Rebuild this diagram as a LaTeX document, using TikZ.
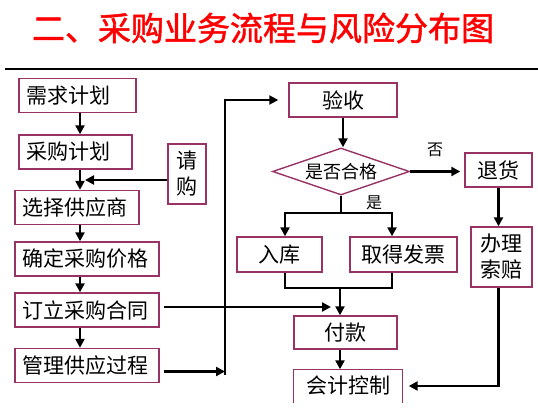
\documentclass[tikz,border=0pt]{standalone}
\usepackage{fontspec}
\setmainfont{Noto Sans CJK SC}
\newfontfamily\titlefont[FakeBold=1.5]{Noto Sans CJK SC}
\usetikzlibrary{arrows.meta,%
	shapes.geometric}
\definecolor{boxred}{RGB}{153,51,102}

\begin{document}
\begin{tikzpicture}[x=1pt,y=-1pt,
		flow_box/.style={rectangle,draw=boxred,line width=1.4pt,fill=white,minimum height=34pt,inner sep=0pt,font=\fontsize{21}{26}\selectfont},
		left_box/.style={flow_box,text width=#1,align=left,inner xsep=8pt},
		check_node/.style={diamond,draw=boxred,line width=1.4pt,fill=white,aspect=2.9,minimum width=137pt,minimum height=47pt,inner sep=0pt,font=\fontsize{18}{20}\selectfont},
		flow_arrow/.style={line width=2.5pt,-{Triangle[length=9pt,width=9pt]}},
		flow_line/.style={line width=2pt},
		small_label/.style={font=\fontsize{16}{18}\selectfont}]
		
		\useasboundingbox (0,0) rectangle (538,411);
		
		\node[text=red,font=\titlefont\fontsize{33}{36}\selectfont] (title) at (263,28) {二、采购业务流程与风险分布图};
		\draw[line width=2pt] (5,69) -- (538,69);
		
		\node[left_box=101pt] (xqjh) at (77.5,95.5) {需求计划};
		\node[left_box=97pt] (cgjh) at (75.5,152) {采购计划};
		\node[flow_box,minimum width=38pt,minimum height=60pt,align=center] (qg) at (187,174) {请\\购};
		\node[left_box=108pt] (xzgys) at (77,207.5) {选择供应商};
		\node[left_box=128pt] (qdjg) at (87,259) {确定采购价格};
		\node[left_box=128pt] (dlht) at (87,310) {订立采购合同};
		\node[left_box=128pt] (glgy) at (87,365.5) {管理供应过程};
		
		\node[flow_box,minimum width=108pt] (ys) at (343,100) {验收};
		\node[check_node] (hg) at (341,171.5) {是否合格};
		\node[flow_box,minimum width=67pt] (th) at (498.5,170) {退货};
		\node[flow_box,minimum width=85pt,minimum height=35pt] (rk) at (279.5,254.5) {入库};
		\node[flow_box,minimum width=107pt,minimum height=35pt] (fp) at (403.5,254.5) {取得发票};
		\node[flow_box,minimum width=61pt,minimum height=60pt,align=center] (sp) at (501.5,257) {办理\\索赔};
		\node[flow_box,minimum width=103pt,minimum height=33pt] (fk) at (345.5,332.5) {付款};
		\node[flow_box,draw=none,minimum width=108pt,minimum height=32pt] (kj) at (348,386) {会计控制};
		\draw[draw=boxred,line width=1.4pt] (kj.south west) -- (kj.north west) -- (kj.north east) -- (kj.south east);
		
		\node[small_label] (no) at (435,150) {否};
		\node[small_label] (yes) at (374,203) {是};
		
		\coordinate (lx) at (80,180);
		\coordinate (lo) at (225,375);
		\coordinate (br) at (341,213);
		\coordinate (mj) at (340,288);
		
		\draw[flow_arrow] (xqjh.south -| lx) -- (cgjh.north -| lx);
		\draw[flow_arrow] (cgjh.south -| lx) -- (xzgys.north -| lx);
		\draw[flow_arrow] (qg.west |- lx) -- ([xshift=5pt]lx);
		\draw[flow_arrow] (xzgys.south -| lx) -- (qdjg.north -| lx);
		\draw[flow_arrow] (qdjg.south -| lx) -- (dlht.north -| lx);
		\draw[flow_arrow] (dlht.south -| lx) -- (glgy.north -| lx);
		
		\draw[flow_arrow,shorten <=4pt] ([yshift=-6pt]glgy.east) -- ([yshift=-6pt]glgy.east -| lo);
		\draw[flow_arrow,line width=2pt,shorten >=10pt] (lo) |- (ys.west);
		\draw[flow_arrow,shorten <=4pt,shorten >=9pt] ([yshift=3pt]dlht.east) -- ([yshift=3pt]dlht.east -| mj);
		
		\draw[flow_arrow] (ys.south) -- (ys.south |- hg.north);
		\draw[flow_arrow,shorten >=4pt] (hg.east) -- (hg.east -| th.west);
		\draw[flow_line] (hg.south) -- (br);
		\draw[flow_arrow] (br) -| ([xshift=5.5pt]rk.north);
		\draw[flow_arrow] (br) -| ([xshift=-11.5pt]fp.north);
		\draw[flow_line] ([xshift=5.5pt]rk.south) |- (mj) -| ([xshift=-11.5pt]fp.south);
		\draw[flow_arrow] (mj) -- (mj |- fk.north);
		\draw[flow_arrow] (fk.south -| mj) -- (kj.north -| mj);
		
		\draw[flow_arrow] (th.south) -- (th.south |- sp.north);
		\draw[flow_arrow,shorten >=6pt] (th.south |- sp.south) |- (kj.east);
		\end{tikzpicture}
\end{document}
